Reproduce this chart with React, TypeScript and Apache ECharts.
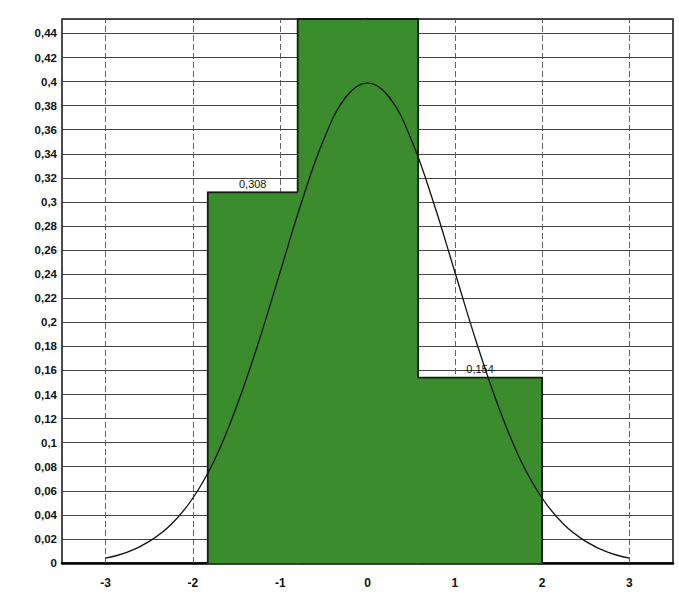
import React, { useEffect, useRef } from "react";
import * as echarts from "echarts";

const binStart = [-1.83, -0.8, 0.58];
const binEnd = [-0.8, 0.58, 2.0];
const binFreq = [0.308, 0.538, 0.154];
const binLabels = ["0,308", "", "0,154"];

const curveX = [-3, -2.75, -2.5, -2.25, -2, -1.75, -1.5, -1.25, -1, -0.75, -0.5, -0.25, 0, 0.25, 0.5, 0.75, 1, 1.25, 1.5, 1.75, 2, 2.25, 2.5, 2.75, 3];
const curveY = [0.004, 0.009, 0.018, 0.032, 0.054, 0.086, 0.13, 0.183, 0.242, 0.301, 0.352, 0.387, 0.399, 0.387, 0.352, 0.301, 0.242, 0.183, 0.13, 0.086, 0.054, 0.032, 0.018, 0.009, 0.004];

const xGridValues = [-3, -2, -1, 0, 1, 2, 3];

const X_MIN = -3.5;
const X_MAX = 3.5;
const Y_MAX = 0.452;

export default function App() {
  const ref = useRef<HTMLDivElement>(null);
  useEffect(() => {
    if (!ref.current) return;
    const chart = echarts.init(ref.current, null, { renderer: "svg" });
    const font = "'Liberation Sans', Arial, sans-serif";
    const clampH = (h: number) => Math.min(h, Y_MAX);
    chart.setOption({
      animation: false,
      backgroundColor: "#ffffff",
      grid: {
        left: 62,
        right: 6,
        top: 19,
        bottom: 34,
        show: true,
        borderColor: "#111",
        borderWidth: 1.5,
        backgroundColor: "transparent",
      },
      xAxis: {
        type: "value",
        min: X_MIN,
        max: X_MAX,
        interval: 0.5,
        axisLine: { show: true, lineStyle: { color: "#000", width: 2.5 } },
        axisTick: { show: false },
        splitLine: { show: false },
        axisLabel: {
          interval: 0,
          margin: 14,
          color: "#111",
          fontFamily: font,
          fontWeight: "bold",
          fontSize: 12,
          formatter: (v: number) => (Math.abs(v - Math.round(v)) < 1e-6 ? String(Math.round(v)) : ""),
        },
      },
      yAxis: {
        type: "value",
        min: 0,
        max: Y_MAX,
        interval: 0.02,
        axisLine: { show: true, lineStyle: { color: "#000", width: 2.5 } },
        axisTick: { show: false },
        splitLine: { show: true, lineStyle: { color: "#444", width: 1.1 } },
        axisLabel: {
          showMaxLabel: false,
          margin: 5,
          color: "#111",
          fontFamily: font,
          fontWeight: "bold",
          fontSize: 11.5,
          formatter: (v: number) => String(Math.round(v * 100) / 100).replace(".", ","),
        },
      },
      series: [
        {
          type: "line",
          data: [],
          z: 1,
          silent: true,
          markLine: {
            z: 1,
            silent: true,
            symbol: "none",
            label: { show: false },
            lineStyle: { color: "#555", width: 0.9, type: [6, 3] },
            data: xGridValues.map((v) => ({ xAxis: v })),
          },
        },
        {
          type: "custom",
          z: 4,
          data: binStart.map((s, i) => [s, binEnd[i], binFreq[i], i]),
          renderItem: (params: any, api: any) => {
            const s = api.value(0);
            const e = api.value(1);
            const h = api.value(2);
            const i = api.value(3);
            const top = clampH(h);
            const prevH = i > 0 ? clampH(binFreq[i - 1]) : 0;
            const nextH = i < binFreq.length - 1 ? clampH(binFreq[i + 1]) : 0;
            const p0 = api.coord([s, 0]);
            const p1 = api.coord([e, top]);
            const leftLow = api.coord([s, Math.min(top, prevH)]);
            const rightLow = api.coord([e, Math.min(top, nextH)]);
            const children: any[] = [
              {
                type: "rect",
                z2: 1,
                shape: { x: p0[0], y: p1[1], width: p1[0] - p0[0], height: p0[1] - p1[1] },
                style: { fill: "#3b8c2d", stroke: "#3b8c2d", lineWidth: 1.2 },
              },
              {
                type: "polyline",
                z2: 10,
                shape: {
                  points: [
                    [p0[0], leftLow[1]],
                    [p0[0], p1[1]],
                    [p1[0], p1[1]],
                    [p1[0], rightLow[1]],
                  ],
                },
                style: { stroke: "#10200c", lineWidth: 1.8, fill: null },
              },
            ];
            const lbl = binLabels[i];
            if (lbl && h < Y_MAX) {
              children.push({
                type: "text",
                z2: 10,
                x: (p0[0] + p1[0]) / 2,
                y: p1[1] - 3,
                style: {
                  text: lbl,
                  fill: "#111",
                  font: "11px 'Liberation Sans', Arial, sans-serif",
                  align: "center",
                  verticalAlign: "bottom",
                },
              });
            }
            return { type: "group", children };
          },
        },
        {
          type: "line",
          z: 6,
          smooth: 0.4,
          symbol: "none",
          lineStyle: { color: "#111", width: 1.3 },
          data: curveX.map((x, i) => [x, curveY[i]]),
        },
      ],
    });
    return () => chart.dispose();
  }, []);
  return (
    <div
      ref={ref}
      style={{ position: "absolute", left: 0, top: 0, width: 679, height: 597 }}
    />
  );
}
